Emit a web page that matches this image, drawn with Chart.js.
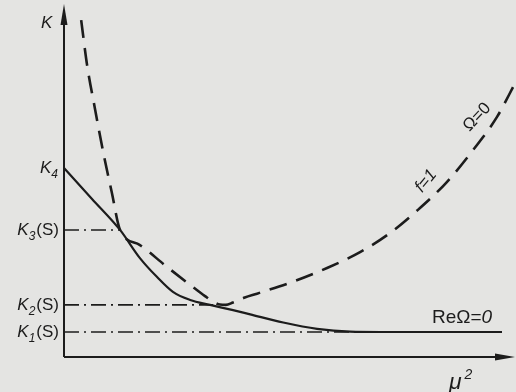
<!DOCTYPE html>
<html>
<head>
<meta charset="utf-8">
<script src="https://cdn.jsdelivr.net/npm/chart.js@4/dist/chart.umd.min.js"></script>
<style>
  html, body { margin: 0; padding: 0; background: #e4e4e2; }
  #wrap { width: 516px; height: 392px; position: relative; }
</style>
</head>
<body>
<div id="wrap"><canvas id="chart"></canvas></div>
<script>
// levels on the K axis (K1..K4) and how far their dash-dot guides run along mu^2
const levelNames = ['K', 'K', 'K', 'K'];
const levelSubs = ['1', '2', '3', '4'];
const levelSuffix = ['(S)', '(S)', '(S)', ''];
const levelValues = [0.71, 1.48, 3.61, 5.37];
const levelEnds = [7.6, 3.3, 1.24, 0];

// Re Omega = 0 (solid)
const reX = [0, 0.62, 1.24, 1.68, 2.06, 2.41, 2.79, 3.23, 3.74, 4.12, 4.85, 5.60, 6.33, 7.0, 7.88, 9.69];
const reY = [5.37, 4.49, 3.61, 2.81, 2.27, 1.85, 1.62, 1.48, 1.33, 1.21, 0.98, 0.80, 0.72, 0.71, 0.71, 0.71];

// f = 1, Omega = 0 (dashed)
const f1X = [0.38, 0.51, 0.69, 0.88, 1.06, 1.24, 1.68, 2.23, 2.79, 3.12, 3.30, 3.45, 3.58, 3.74, 4.00, 4.27, 5.00, 5.82, 6.55, 7.21, 7.83, 8.47, 9.05, 9.58, 9.98];
const f1Y = [9.57, 8.30, 7.02, 5.74, 4.66, 3.61, 3.18, 2.61, 2.05, 1.73, 1.57, 1.49, 1.48, 1.55, 1.69, 1.80, 2.11, 2.53, 2.98, 3.52, 4.18, 4.97, 5.88, 6.82, 7.78];

const ink = '#1c1c1c';
const pts = (xs, ys) => xs.map((x, i) => ({ x: x, y: ys[i] }));

const levelSets = levelValues.map((v, i) => ({
    data: [{ x: 0, y: v }, { x: levelEnds[i], y: v }],
    borderColor: ink,
    borderWidth: 1.6,
    borderDash: [15, 5, 2, 5],
    pointRadius: 0,
    tension: 0
})).filter((d, i) => levelEnds[i] > 0);

const drawPlugin = {
    id: 'sketch',
    beforeDraw(chart) {
        const c = chart.ctx;
        c.save();
        c.fillStyle = '#e4e4e2';
        c.fillRect(0, 0, chart.width, chart.height);
        c.restore();
    },
    afterDraw(chart) {
        const c = chart.ctx;
        const xs = chart.scales.x, ys = chart.scales.y;
        const x0 = xs.getPixelForValue(0), y0 = ys.getPixelForValue(0);
        c.save();
        c.strokeStyle = ink;
        c.fillStyle = ink;
        c.lineWidth = 2;

        // axes with arrow heads
        c.beginPath();
        c.moveTo(x0, y0); c.lineTo(x0, 20);
        c.moveTo(x0, y0); c.lineTo(xs.right - 18, y0);
        c.stroke();
        c.beginPath();
        c.moveTo(x0, 4); c.lineTo(x0 - 3.5, 25); c.lineTo(x0 + 3.5, 25); c.closePath();
        c.fill();
        c.beginPath();
        c.moveTo(xs.right - 1, y0); c.lineTo(xs.right - 21, y0 - 3.5); c.lineTo(xs.right - 21, y0 + 3.5); c.closePath();
        c.fill();

        // level labels K_n(S)
        const big = 'italic 17px "Liberation Sans"';
        const sub = 'italic 12px "Liberation Sans"';
        const par = '17px "Liberation Sans"';
        c.textBaseline = 'alphabetic';
        levelValues.forEach((v, i) => {
            const yp = ys.getPixelForValue(v) + 5;
            c.font = big; const w1 = c.measureText(levelNames[i]).width;
            c.font = sub; const w2 = c.measureText(levelSubs[i]).width;
            c.font = par; const w3 = c.measureText(levelSuffix[i]).width;
            let xp = x0 - 5 - (w1 + w2 + w3 + 1);
            c.font = big; c.fillText(levelNames[i], xp, yp); xp += w1;
            c.font = sub; c.fillText(levelSubs[i], xp, yp + 5); xp += w2 + 1;
            c.font = par; c.fillText(levelSuffix[i], xp, yp);
        });

        // axis names
        c.font = big;
        c.fillText('K', 41, 28);
        c.font = 'italic 23px "Liberation Sans"';
        c.fillText('\u03bc', 449, 389);
        const wm = c.measureText('\u03bc').width;
        c.font = 'italic 14px "Liberation Sans"';
        c.fillText('2', 449 + wm + 3, 379);

        // curve labels
        c.font = '19px "Liberation Sans"';
        c.fillText('Re\u03a9=', 432, 323);
        const wr = c.measureText('Re\u03a9=').width;
        c.font = 'italic 19px "Liberation Sans"';
        c.fillText('0', 432 + wr, 323);

        c.font = 'italic 17px "Liberation Sans"';
        c.translate(426, 181);
        c.rotate(-0.88);
        c.textAlign = 'center';
        c.textBaseline = 'middle';
        c.fillText('f=1', 0, 0);
        c.setTransform(1, 0, 0, 1, 0, 0);
        c.translate(477, 117);
        c.rotate(-0.82);
        c.font = '17px "Liberation Sans"';
        c.fillText('\u03a9=0', 0, 0);
        c.restore();
    }
};

new Chart(document.getElementById('chart'), {
    type: 'line',
    data: {
        datasets: [
            {
                data: pts(reX, reY),
                borderColor: ink,
                borderWidth: 2.2,
                pointRadius: 0,
                cubicInterpolationMode: 'monotone'
            },
            {
                data: pts(f1X, f1Y),
                borderColor: ink,
                borderWidth: 2.6,
                borderDash: [18, 10],
                pointRadius: 0,
                cubicInterpolationMode: 'monotone'
            },
            ...levelSets
        ]
    },
    options: {
        responsive: true,
        maintainAspectRatio: false,
        animation: false,
        layout: { padding: { left: 64, right: 0, top: 5, bottom: 35 } },
        plugins: { legend: { display: false }, tooltip: { enabled: false } },
        scales: {
            x: { type: 'linear', min: 0, max: 10, display: false },
            y: { type: 'linear', min: 0, max: 10, display: false }
        },
        datasets: { line: { clip: false } }
    },
    plugins: [drawPlugin]
});
</script>
</body>
</html>
